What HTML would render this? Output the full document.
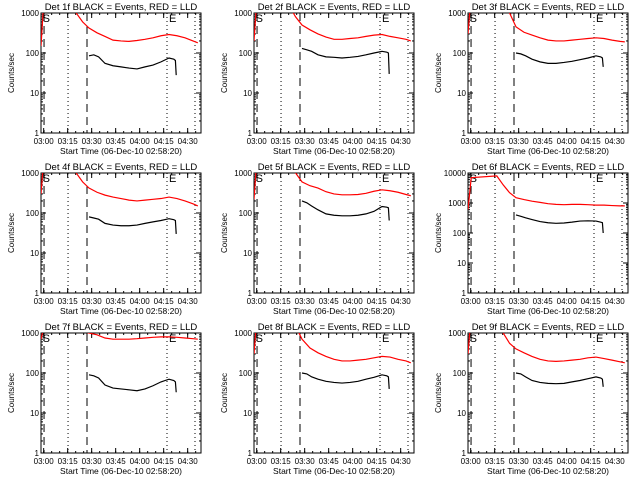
<!DOCTYPE html>
<html><head><meta charset="utf-8"><style>
body{margin:0;background:#fff;}
svg{display:block;font-family:"Liberation Sans",sans-serif;}
</style></head><body>
<svg id="c" width="640" height="480" viewBox="0 0 640 480"></svg>
<script>
const titles = ["Det 1f","Det 2f","Det 3f","Det 4f","Det 5f","Det 6f","Det 7f","Det 8f","Det 9f"];
const xTickLabels = ["03:00","03:15","03:30","03:45","04:00","04:15","04:30"];
const redTimes = [0,2,18,22,26,30,35,40,45,50,55,60,65,70,75,80,85,90,95,98];
const blackTimes = [30,33,36,40,45,50,55,60,65,70,75,80,83,84,84.5];
const red1 = [150,3000,3000,1000,600,420,320,260,210,200,195,205,220,240,270,290,270,240,200,180];
const red2 = [200,3000,3000,1500,800,500,380,300,250,220,220,230,240,260,280,290,260,240,220,200];
const red3 = [300,3000,3000,3000,1000,450,330,280,240,210,200,200,210,220,230,240,230,210,195,190];
const red4 = [300,3000,3000,1000,600,420,330,280,250,230,210,200,210,220,230,250,230,200,170,150];
const red5 = [220,3000,3000,3000,1000,600,480,420,340,300,285,285,290,310,350,380,360,330,290,270];
const red6 = [600,7000,8000,4000,2200,1500,1300,1150,1050,950,900,880,900,900,880,850,850,820,800,800];
const red7 = [700,1500,3000,1500,1100,1000,900,750,700,700,700,720,750,780,800,800,780,750,720,700];
const red8 = [300,3000,3000,3000,1500,700,420,320,260,220,200,200,210,220,240,260,250,220,200,180];
const red9 = [300,3000,3000,1000,550,400,320,260,220,200,195,200,210,220,240,250,230,210,190,180];
const black1 = [85,90,80,55,48,45,42,40,45,50,60,75,70,65,28];
const black2 = [130,120,110,90,80,78,75,78,82,90,100,110,105,100,30];
const black3 = [100,95,85,70,60,55,55,58,62,68,75,85,80,75,45];
const black4 = [80,75,70,55,50,48,48,50,55,60,65,72,68,65,30];
const black5 = [200,180,150,120,95,88,85,85,88,95,110,145,140,135,65];
const black6 = [400,360,320,280,240,220,210,215,230,250,255,250,230,220,100];
const black7 = [90,85,75,50,42,40,38,36,40,48,60,70,65,60,33];
const black8 = [100,95,80,70,62,58,56,58,62,70,78,90,85,80,40];
const black9 = [100,95,80,65,58,55,54,55,60,65,72,80,75,70,45];
const reds=[red1,red2,red3,red4,red5,red6,red7,red8,red9];
const blacks=[black1,black2,black3,black4,black5,black6,black7,black8,black9];
const dashedTimes=[1.9,28.75];
const dottedTimes=[16.9,78.75,96.25];
const svg=document.getElementById('c');
const NS="http://www.w3.org/2000/svg";
function mk(tag,attrs,parent){const e=document.createElementNS(NS,tag);for(const k in attrs)e.setAttribute(k,attrs[k]);(parent||svg).appendChild(e);return e;}
const lefts=[41,254,468], tops=[13,173,333];
for(let p=0;p<9;p++){
  const col=p%3,row=Math.floor(p/3);
  const L=lefts[col],T=tops[row],W=160,H=120,B=T+H;
  const maxDec=(p===5)?4:3;
  const xs=t=>L+t*W/100;
  const ys=v=>B-Math.log10(v)*H/maxDec;
  const g=mk('g',{});
  
  
  const cp=mk('clipPath',{id:'cp'+p},g);mk('rect',{x:L,y:T,width:W,height:H},cp);
  const tt=mk('text',{x:L+W/2,y:T-3,'font-size':9.5,'text-anchor':'middle'},g);
  tt.textContent=titles[p]+" BLACK = Events, RED = LLD";
  
  
  const box=mk('rect',{x:L,y:T,width:W,height:H,fill:'none',stroke:'#000','stroke-width':1},g);
  
  
  for(let d=0;d<=maxDec;d++){
    const y=ys(Math.pow(10,d));
    mk('line',{x1:L,x2:L+5,y1:y,y2:y,stroke:'#000'},g);
    mk('line',{x1:L+W-5,x2:L+W,y1:y,y2:y,stroke:'#000'},g);
    const lb=mk('text',{x:L-2,y:y+3,'font-size':8,'text-anchor':'end'},g);
    lb.textContent=String(Math.pow(10,d));
    
    
    if(d<maxDec){for(let m=2;m<10;m++){const ym=ys(m*Math.pow(10,d));
      mk('line',{x1:L,x2:L+2,y1:ym,y2:ym,stroke:'#000'},g);
      mk('line',{x1:L+W-2,x2:L+W,y1:ym,y2:ym,stroke:'#000'},g);}}
  }
  for(let k=0;k<xTickLabels.length;k++){
    const x=xs(1.667+15*k);
    mk('line',{x1:x,x2:x,y1:B,y2:B-5,stroke:'#000'},g);
    mk('line',{x1:x,x2:x,y1:T,y2:T+5,stroke:'#000'},g);
    const lb=mk('text',{x:x,y:B+11,'font-size':8,'text-anchor':'middle'},g);
    lb.textContent=xTickLabels[k];
    
    
  }
  for(let t=1.667;t<100;t+=5){const x=xs(t);
    mk('line',{x1:x,x2:x,y1:B,y2:B-2,stroke:'#000'},g);
    mk('line',{x1:x,x2:x,y1:T,y2:T+2,stroke:'#000'},g);}
  const xl=mk('text',{x:L+W/2,y:B+21,'font-size':8.5,'text-anchor':'middle'},g);
  xl.textContent="Start Time (06-Dec-10 02:58:20)";
  
  
  const yl=mk('text',{x:0,y:0,'font-size':8,'text-anchor':'middle',transform:`translate(${L-27},${T+H/2}) rotate(-90)`},g);
  yl.textContent="Counts/sec";
  
  
  dashedTimes.forEach(t=>{const l=mk('line',{x1:xs(t),x2:xs(t),y1:T,y2:B,stroke:'#000','stroke-dasharray':'8,5'},g);
    
    });
  dottedTimes.forEach(t=>{const l=mk('line',{x1:xs(t),x2:xs(t),y1:T,y2:B,stroke:'#000','stroke-dasharray':'1,3'},g);
    
    });
  const s=mk('text',{x:xs(1),y:T+9,'font-size':11},g);s.textContent="S";
  
  
  const e=mk('text',{x:xs(80),y:T+9,'font-size':11},g);e.textContent="E";
  
  
  const rp=mk('polyline',{points:redTimes.map((t,i)=>xs(t)+','+ys(reds[p][i])).join(' '),fill:'none',stroke:'#f00','stroke-width':1.2,'clip-path':`url(#cp${p})`},g);
  
  
  const bp=mk('polyline',{points:blackTimes.map((t,i)=>xs(t)+','+ys(blacks[p][i])).join(' '),fill:'none',stroke:'#000','stroke-width':1.2,'clip-path':`url(#cp${p})`},g);
  
  
}
</script>
</body></html>
